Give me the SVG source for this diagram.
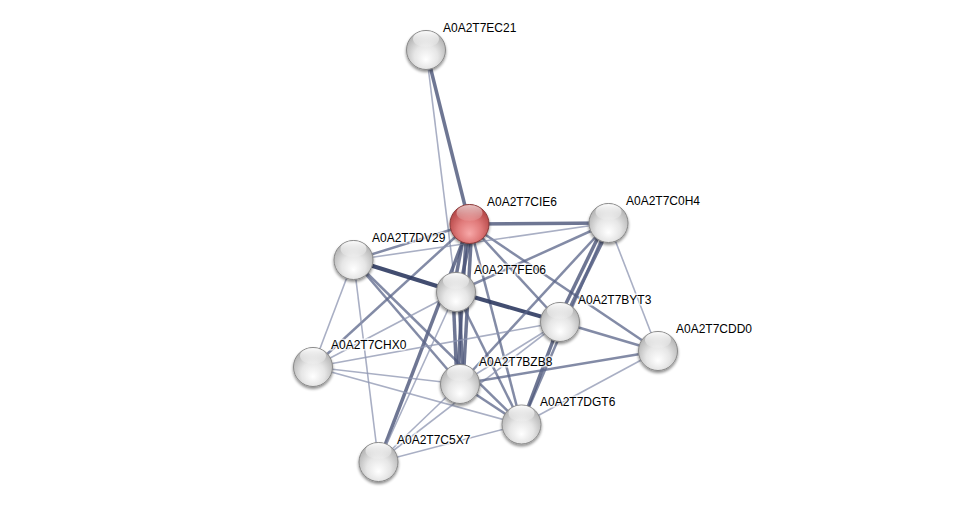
<svg xmlns="http://www.w3.org/2000/svg" width="975" height="507" viewBox="0 0 975 507">
<defs>
<radialGradient id="gw" cx="50%" cy="62%" r="55%" fx="50%" fy="75%">
<stop offset="0" stop-color="#ffffff"/>
<stop offset="0.55" stop-color="#e6e6e6"/>
<stop offset="1" stop-color="#b8b8b8"/>
</radialGradient>
<radialGradient id="gr" cx="50%" cy="62%" r="55%" fx="50%" fy="75%">
<stop offset="0" stop-color="#f7a8a8"/>
<stop offset="0.55" stop-color="#e07a7a"/>
<stop offset="1" stop-color="#b84a4a"/>
</radialGradient>
<linearGradient id="hl" x1="0" y1="0" x2="0" y2="1">
<stop offset="0" stop-color="#ffffff" stop-opacity="0.95"/>
<stop offset="1" stop-color="#ffffff" stop-opacity="0.1"/>
</linearGradient>
<filter id="sh" x="-30%" y="-30%" width="160%" height="170%">
<feGaussianBlur in="SourceAlpha" stdDeviation="1.5"/>
<feOffset dy="2" result="b"/>
<feComponentTransfer><feFuncA type="linear" slope="0.45"/></feComponentTransfer>
<feMerge><feMergeNode/><feMergeNode in="SourceGraphic"/></feMerge>
</filter>
</defs>
<style>
.e1{stroke:#2e3a60;stroke-width:4;stroke-opacity:0.9;fill:none}
.e2{stroke:#4a5478;stroke-width:3.5;stroke-opacity:0.8;fill:none}
.e3{stroke:#5a6488;stroke-width:2.5;stroke-opacity:0.75;fill:none}
.e4{stroke:#8c94b0;stroke-width:1.6;stroke-opacity:0.75;fill:none}
.nw{fill:url(#gw);stroke:#8a8a8a;stroke-width:1;filter:url(#sh)}
.nr{fill:url(#gr);stroke:#8a3a3a;stroke-width:1;filter:url(#sh)}
.h{fill:url(#hl)}
.lbl{font-family:"Liberation Sans",Arial,sans-serif;font-size:12px;fill:#000;paint-order:stroke;stroke:#ffffff;stroke-opacity:0.7;stroke-width:3px}
</style>
<rect width="975" height="507" fill="#ffffff"/>
<g id="edges">
<line class="e4" x1="426" y1="50" x2="456" y2="292"/>
<line class="e2" x1="426" y1="50" x2="469.5" y2="224"/>
<line class="e2" x1="469.5" y1="224" x2="608.5" y2="223"/>
<line class="e3" x1="469.5" y1="224" x2="353.5" y2="260"/>
<line class="e2" x1="466" y1="224" x2="453" y2="292"/>
<line class="e2" x1="473" y1="224" x2="459" y2="292"/>
<line class="e3" x1="469.5" y1="224" x2="560" y2="322"/>
<line class="e3" x1="469.5" y1="224" x2="658" y2="351"/>
<line class="e2" x1="467" y1="224" x2="457" y2="384"/>
<line class="e2" x1="472" y1="224" x2="463" y2="384"/>
<line class="e3" x1="469.5" y1="224" x2="521.5" y2="424.5"/>
<line class="e3" x1="469.5" y1="224" x2="313" y2="367"/>
<line class="e2" x1="469.5" y1="224" x2="378.5" y2="462"/>
<line class="e4" x1="353.5" y1="260" x2="608.5" y2="223"/>
<line class="e1" x1="353.5" y1="260" x2="456" y2="292"/>
<line class="e3" x1="353.5" y1="260" x2="460" y2="384"/>
<line class="e3" x1="353.5" y1="260" x2="521.5" y2="424.5"/>
<line class="e4" x1="353.5" y1="260" x2="313" y2="367"/>
<line class="e4" x1="353.5" y1="260" x2="378.5" y2="462"/>
<line class="e3" x1="456" y1="292" x2="608.5" y2="223"/>
<line class="e1" x1="456" y1="292" x2="560" y2="322"/>
<line class="e2" x1="453" y1="292" x2="457" y2="384"/>
<line class="e2" x1="459" y1="292" x2="463" y2="384"/>
<line class="e3" x1="456" y1="292" x2="521.5" y2="424.5"/>
<line class="e4" x1="456" y1="292" x2="313" y2="367"/>
<line class="e4" x1="456" y1="292" x2="378.5" y2="462"/>
<line class="e2" x1="605" y1="223" x2="557" y2="322"/>
<line class="e2" x1="611" y1="224" x2="563" y2="322"/>
<line class="e4" x1="608.5" y1="223" x2="658" y2="351"/>
<line class="e3" x1="608.5" y1="223" x2="460" y2="384"/>
<line class="e3" x1="608.5" y1="223" x2="521.5" y2="424.5"/>
<line class="e3" x1="560" y1="322" x2="658" y2="351"/>
<line class="e4" x1="560" y1="322" x2="460" y2="384"/>
<line class="e2" x1="560" y1="322" x2="521.5" y2="424.5"/>
<line class="e4" x1="560" y1="322" x2="313" y2="367"/>
<line class="e4" x1="560" y1="322" x2="378.5" y2="462"/>
<line class="e3" x1="460" y1="384" x2="658" y2="351"/>
<line class="e3" x1="460" y1="384" x2="521.5" y2="424.5"/>
<line class="e4" x1="460" y1="384" x2="313" y2="367"/>
<line class="e4" x1="460" y1="384" x2="378.5" y2="462"/>
<line class="e4" x1="521.5" y1="424.5" x2="658" y2="351"/>
<line class="e4" x1="521.5" y1="424.5" x2="313" y2="367"/>
<line class="e4" x1="521.5" y1="424.5" x2="378.5" y2="462"/>
</g>
<g id="n-EC21"><circle class="nw" cx="426" cy="50" r="19.5"/><ellipse class="h" cx="426" cy="39" rx="13" ry="8"/><text class="lbl" x="443" y="32">A0A2T7EC21</text></g>
<g id="n-CIE6"><circle class="nr" cx="469.5" cy="224" r="19.5"/><ellipse class="h" cx="469.5" cy="213" rx="13" ry="8" opacity="0.7"/><text class="lbl" x="487" y="206">A0A2T7CIE6</text></g>
<g id="n-C0H4"><circle class="nw" cx="608.5" cy="223" r="19.5"/><ellipse class="h" cx="608.5" cy="212" rx="13" ry="8"/><text class="lbl" x="626" y="205">A0A2T7C0H4</text></g>
<g id="n-DV29"><circle class="nw" cx="353.5" cy="260" r="19.5"/><ellipse class="h" cx="353.5" cy="249" rx="13" ry="8"/><text class="lbl" x="372" y="242">A0A2T7DV29</text></g>
<g id="n-FE06"><circle class="nw" cx="456" cy="292" r="19.5"/><ellipse class="h" cx="456" cy="281" rx="13" ry="8"/><text class="lbl" x="474" y="274">A0A2T7FE06</text></g>
<g id="n-BYT3"><circle class="nw" cx="560" cy="322" r="19.5"/><ellipse class="h" cx="560" cy="311" rx="13" ry="8"/><text class="lbl" x="578" y="304">A0A2T7BYT3</text></g>
<g id="n-CDD0"><circle class="nw" cx="658" cy="351" r="19.5"/><ellipse class="h" cx="658" cy="340" rx="13" ry="8"/><text class="lbl" x="676" y="333">A0A2T7CDD0</text></g>
<g id="n-CHX0"><circle class="nw" cx="313" cy="367" r="19.5"/><ellipse class="h" cx="313" cy="356" rx="13" ry="8"/><text class="lbl" x="331" y="349">A0A2T7CHX0</text></g>
<g id="n-BZB8"><circle class="nw" cx="460" cy="384" r="19.5"/><ellipse class="h" cx="460" cy="373" rx="13" ry="8"/><text class="lbl" x="479" y="366">A0A2T7BZB8</text></g>
<g id="n-DGT6"><circle class="nw" cx="521.5" cy="424.5" r="19.5"/><ellipse class="h" cx="521.5" cy="413.5" rx="13" ry="8"/><text class="lbl" x="540" y="406">A0A2T7DGT6</text></g>
<g id="n-C5X7"><circle class="nw" cx="378.5" cy="462" r="19.5"/><ellipse class="h" cx="378.5" cy="451" rx="13" ry="8"/><text class="lbl" x="397" y="444">A0A2T7C5X7</text></g>
</svg>
